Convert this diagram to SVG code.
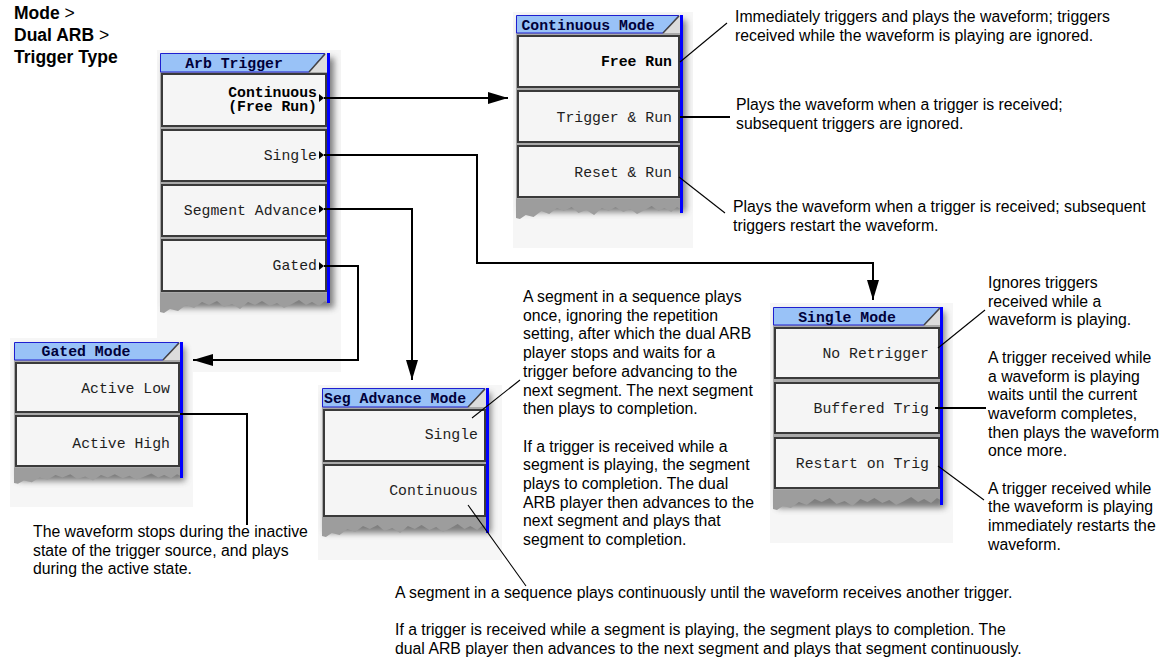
<svg xmlns="http://www.w3.org/2000/svg" xmlns:xlink="http://www.w3.org/1999/xlink" width="1172" height="659" viewBox="0 0 1172 659">
<style>
.bd{fill:#f6f6f6}
.sh{fill:#555;opacity:.75}
.frm{fill:#a9a9a9}
.btn{fill:#f5f5f5;stroke:#3a3a3a;stroke-width:2}
.tb{fill:#99c2f7;stroke:#1f1fd0;stroke-width:1}
.tr{fill:#dcdcdc}
.dg{stroke:#444;stroke-width:1.5;fill:none}
.edge{fill:#0000ff}
.torn{fill:#9d9d9d}
.mt{font-family:"Liberation Mono","DejaVu Sans Mono",monospace;font-size:14.8px;fill:#1e1e1e;text-anchor:end}
.mb{font-weight:bold;fill:#000}
.tt{font-family:"Liberation Mono","DejaVu Sans Mono",monospace;font-weight:bold;font-size:14.8px;fill:#00003a;text-anchor:middle}
.ts{text-anchor:start}
.d{font-family:"Liberation Sans",Arial,sans-serif;font-size:15.8px;fill:#000}
.hd{font-family:"Liberation Sans",Arial,sans-serif;font-size:17.5px;font-weight:bold;fill:#000}
.ln{stroke:#000;stroke-width:1.1;fill:none}
.cn{stroke:#000;stroke-width:2;fill:none}
.tri{fill:#000}
</style>
<defs>
<filter id="blur" x="-20%" y="-20%" width="140%" height="140%"><feGaussianBlur stdDeviation="3"/></filter>
<path id="torn" d="M0,0 H170 V12 L165,9 L159,14 L152,10 L146,13 L139,8 L132,12 L124,16 L117,11 L110,14 L102,9 L95,13 L88,10 L80,17 L72,12 L64,15 L57,9 L49,13 L42,10 L34,16 L26,13 L18,19 L10,17 L4,21 L0,20 Z"/>
<marker id="ah" markerUnits="userSpaceOnUse" markerWidth="20" markerHeight="12" refX="20" refY="6" orient="auto"><path d="M0,0 L20,6 L0,12 Z" fill="#000"/></marker>
</defs>
<rect width="1172" height="659" fill="#fff"/>

<g id="header">
<text class="hd" x="14" y="19">Mode <tspan font-weight="normal">&gt;</tspan></text>
<text class="hd" x="14" y="41">Dual ARB <tspan font-weight="normal">&gt;</tspan></text>
<text class="hd" x="14" y="63">Trigger Type</text>
</g>

<g id="arb-trigger">
<rect class="bd" x="157" y="50" width="184" height="322"/>
<rect class="sh" x="164" y="58" width="170" height="250" filter="url(#blur)"/>
<use xlink:href="#torn" href="#torn" x="160" y="292" class="torn"/>
<rect class="frm" x="160" y="72" width="168" height="221"/>
<path class="tb" d="M160.5,53.5 H325 L309,72 H160.5 Z"/>
<path class="tr" d="M325,53.5 H328 V72 H309 Z"/>
<path class="dg" d="M309,72 L325,54"/>
<rect class="btn" x="162" y="74" width="164" height="52"/>
<rect class="btn" x="162" y="130" width="164" height="51"/>
<rect class="btn" x="162" y="185" width="164" height="51"/>
<rect class="btn" x="162" y="240" width="164" height="51"/>
<rect class="edge" x="327" y="53" width="3" height="250"/>
<text class="tt" x="234" y="68">Arb Trigger</text>
<text class="mt mb" x="317" y="97">Continuous</text>
<text class="mt mb" x="317" y="111">(Free Run)</text>
<text class="mt" x="317" y="160">Single</text>
<text class="mt" x="317" y="215">Segment Advance</text>
<text class="mt" x="317" y="270">Gated</text>
<path class="tri" d="M319,94 L324,98 L319,102 Z"/>
<path class="tri" d="M319,151 L324,155 L319,159 Z"/>
<path class="tri" d="M319,205 L324,209 L319,213 Z"/>
<path class="tri" d="M319,262 L324,266 L319,270 Z"/>
</g>

<g id="continuous-mode">
<rect class="bd" x="513" y="12" width="180" height="236"/>
<rect class="sh" x="520" y="20" width="166" height="192" filter="url(#blur)"/>
<use xlink:href="#torn" href="#torn" transform="translate(516,198) scale(0.976,1)" class="torn"/>
<rect class="frm" x="516" y="33" width="165" height="166"/>
<path class="tb" d="M516.5,15.5 H679 L663,33 H516.5 Z"/>
<path class="tr" d="M679,15.5 H681 V33 H663 Z"/>
<path class="dg" d="M663,33 L679,16"/>
<rect class="btn" x="518" y="36" width="161" height="51"/>
<rect class="btn" x="518" y="91" width="161" height="51"/>
<rect class="btn" x="518" y="146" width="161" height="51"/>
<rect class="edge" x="680" y="15" width="3" height="198"/>
<text class="tt" x="588" y="30">Continuous Mode</text>
<text class="mt mb" x="672" y="66">Free Run</text>
<text class="mt" x="672" y="122">Trigger &amp; Run</text>
<text class="mt" x="672" y="177">Reset &amp; Run</text>
</g>

<g id="single-mode">
<rect class="bd" x="770" y="303" width="183" height="240"/>
<rect class="sh" x="777" y="312" width="168" height="196" filter="url(#blur)"/>
<use xlink:href="#torn" href="#torn" transform="translate(773,489) scale(0.994,1)" class="torn"/>
<rect class="frm" x="773" y="325" width="168" height="165"/>
<path class="tb" d="M773.5,307.5 H940 L924,325 H773.5 Z"/>
<path class="tr" d="M940,307.5 H941 V325 H924 Z"/>
<path class="dg" d="M924,325 L940,308"/>
<rect class="btn" x="775" y="328" width="164" height="50"/>
<rect class="btn" x="775" y="383" width="164" height="50"/>
<rect class="btn" x="775" y="438" width="164" height="50"/>
<rect class="edge" x="940" y="307" width="3" height="198"/>
<text class="tt" x="847" y="322">Single Mode</text>
<text class="mt" x="929" y="358">No Retrigger</text>
<text class="mt" x="929" y="413">Buffered Trig</text>
<text class="mt" x="929" y="468">Restart on Trig</text>
</g>

<g id="seg-advance-mode">
<rect class="bd" x="318" y="385" width="184" height="175"/>
<rect class="sh" x="325" y="393" width="166" height="140" filter="url(#blur)"/>
<use xlink:href="#torn" href="#torn" transform="translate(322,516) scale(0.976,1)" class="torn"/>
<rect class="frm" x="322" y="407" width="165" height="110"/>
<path class="tb" d="M322.5,388.5 H485 L468,407 H322.5 Z"/>
<path class="tr" d="M485,388.5 H487 V407 H468 Z"/>
<path class="dg" d="M468,407 L485,389"/>
<rect class="btn" x="324" y="410" width="161" height="51"/>
<rect class="btn" x="324" y="465" width="161" height="51"/>
<rect class="edge" x="486" y="388" width="3" height="145"/>
<text class="tt ts" x="324" y="403">Seg Advance Mode</text>
<text class="mt" x="478" y="439">Single</text>
<text class="mt" x="478" y="495">Continuous</text>
</g>

<g id="gated-mode">
<rect class="bd" x="10" y="338" width="183" height="169"/>
<rect class="sh" x="18" y="347" width="167" height="134" filter="url(#blur)"/>
<use xlink:href="#torn" href="#torn" transform="translate(14,467) scale(0.988,0.8)" class="torn"/>
<rect class="frm" x="14" y="360" width="167" height="108"/>
<path class="tb" d="M14.5,342.5 H179 L163,360 H14.5 Z"/>
<path class="tr" d="M179,342.5 H181 V360 H163 Z"/>
<path class="dg" d="M163,360 L179,343"/>
<rect class="btn" x="16" y="363" width="163" height="49"/>
<rect class="btn" x="16" y="416" width="163" height="50"/>
<rect class="edge" x="180" y="342" width="3" height="136"/>
<text class="tt" x="86" y="356">Gated Mode</text>
<text class="mt" x="170" y="393">Active Low</text>
<text class="mt" x="170" y="448">Active High</text>
</g>

<g id="connectors">
<path class="cn" d="M324,98 H508" marker-end="url(#ah)"/>
<path class="cn" d="M324,155 H477 V263 H873 V300" marker-end="url(#ah)"/>
<path class="cn" d="M324,209 H412 V380" marker-end="url(#ah)"/>
<path class="cn" d="M324,266 H358 V360 H193" marker-end="url(#ah)"/>
<path class="ln" d="M680,62 L727,23"/>
<path class="cn" d="M680,117 H730"/>
<path class="ln" d="M679,177 L725,213"/>
<path class="ln" d="M938,348 L985,310"/>
<path class="cn" d="M935,408 H986"/>
<path class="ln" d="M938,466 L984,500"/>
<path class="ln" d="M472,418 L520,380"/>
<path class="ln" d="M468,505 L526,586"/>
<path class="cn" d="M180,414 H247 V525"/>
</g>

<g id="texts">
<text class="d" x="735" y="22">Immediately triggers and plays the waveform; triggers</text>
<text class="d" x="735" y="40.7">received while the waveform is playing are ignored.</text>
<text class="d" x="736" y="110">Plays the waveform when a trigger is received;</text>
<text class="d" x="736" y="128.7">subsequent triggers are ignored.</text>
<text class="d" x="733" y="212">Plays the waveform when a trigger is received; subsequent</text>
<text class="d" x="733" y="230.7">triggers restart the waveform.</text>

<text class="d" x="523" y="302">A segment in a sequence plays</text>
<text class="d" x="523" y="320.7">once, ignoring the repetition</text>
<text class="d" x="523" y="339.4">setting, after which the dual ARB</text>
<text class="d" x="523" y="358.1">player stops and waits for a</text>
<text class="d" x="523" y="376.8">trigger before advancing to the</text>
<text class="d" x="523" y="395.5">next segment. The next segment</text>
<text class="d" x="523" y="414.2">then plays to completion.</text>
<text class="d" x="523" y="451.6">If a trigger is received while a</text>
<text class="d" x="523" y="470.3">segment is playing, the segment</text>
<text class="d" x="523" y="489">plays to completion. The dual</text>
<text class="d" x="523" y="507.7">ARB player then advances to the</text>
<text class="d" x="523" y="526.4">next segment and plays that</text>
<text class="d" x="523" y="545.1">segment to completion.</text>

<text class="d" x="988" y="288">Ignores triggers</text>
<text class="d" x="988" y="306.7">received while a</text>
<text class="d" x="988" y="325.4">waveform is playing.</text>
<text class="d" x="988" y="362.8">A trigger received while</text>
<text class="d" x="988" y="381.5">a waveform is playing</text>
<text class="d" x="988" y="400.2">waits until the current</text>
<text class="d" x="988" y="418.9">waveform completes,</text>
<text class="d" x="988" y="437.6">then plays the waveform</text>
<text class="d" x="988" y="456.3">once more.</text>
<text class="d" x="988" y="493.7">A trigger received while</text>
<text class="d" x="988" y="512.4">the waveform is playing</text>
<text class="d" x="988" y="531.1">immediately restarts the</text>
<text class="d" x="988" y="549.8">waveform.</text>

<text class="d" x="33" y="537">The waveform stops during the inactive</text>
<text class="d" x="33" y="555.7">state of the trigger source, and plays</text>
<text class="d" x="33" y="574.4">during the active state.</text>

<text class="d" x="395" y="598">A segment in a sequence plays continuously until the waveform receives another trigger.</text>
<text class="d" x="395" y="635.4">If a trigger is received while a segment is playing, the segment plays to completion. The</text>
<text class="d" x="395" y="654.1">dual ARB player then advances to the next segment and plays that segment continuously.</text>
</g>
</svg>
